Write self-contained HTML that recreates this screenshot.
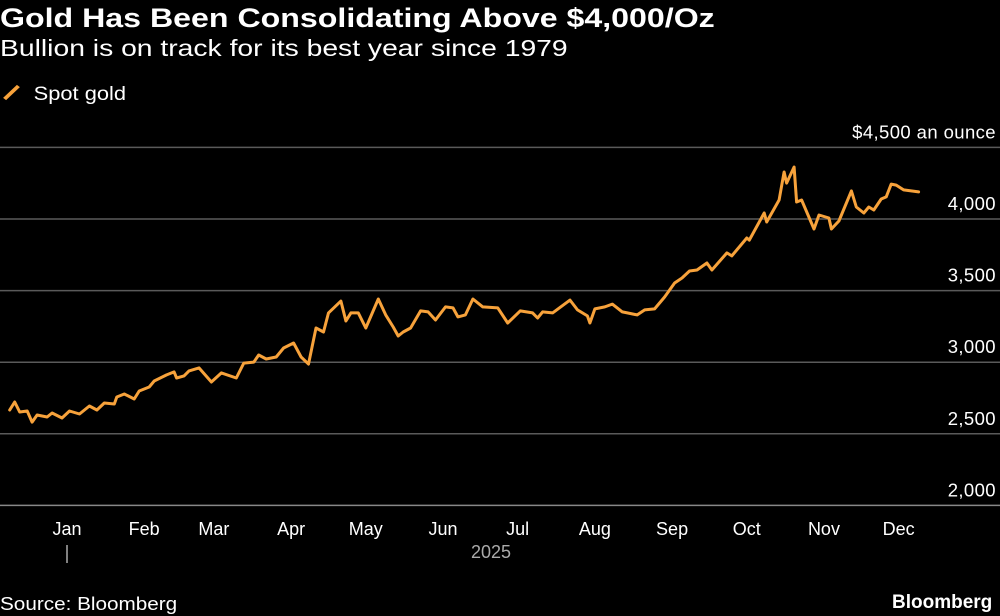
<!DOCTYPE html>
<html><head><meta charset="utf-8"><style>
html,body{margin:0;padding:0;background:#000;}
body{width:1000px;height:616px;position:relative;overflow:hidden;font-family:"Liberation Sans",sans-serif;color:#fff;}
.t{position:absolute;white-space:nowrap;transform-origin:left top;}
</style></head><body>
<div class="t" style="left:0;top:3px;font-size:27px;font-weight:bold;transform:scaleX(1.19);">Gold Has Been Consolidating Above $4,000/Oz</div>
<div class="t" style="left:0;top:35px;font-size:23px;transform:scaleX(1.23);">Bullion is on track for its best year since 1979</div>
<div class="t" style="left:0;top:83px;font-size:19px;transform:scaleX(1.15);"><svg width="24" height="20" style="vertical-align:-3px"><line x1="4" y1="16" x2="16" y2="3" stroke="#f7a23b" stroke-width="3.5"/></svg> Spot gold</div>
<svg id="chart" width="1000" height="616" style="position:absolute;left:0;top:0"></svg>
<div class="t" style="left:0;top:594px;font-size:18px;transform:scaleX(1.15);">Source: Bloomberg</div>
<div class="t" style="left:892px;top:592px;font-size:19px;font-weight:bold;">Bloomberg</div>
<script>
const days=[-23,-21,-19,-16,-14,-12,-8,-6,-2,1,5,9,12,15,19,20,23,27,29,33,35,40,43,44,47,49,53,58,62,68,71,75,77,80,84,87,91,94,97,100,103,105,110,112,114,117,120,125,128,131,133,135,138,142,145,148,152,155,157,160,163,167,173,177,182,187,189,191,195,202,205,209,210,212,216,219,223,225,229,232,236,240,244,247,250,253,257,259,265,267,273,274,280,281,286,288,289,292,293,295,300,302,306,307,310,313,315,317,320,322,324,327,329,331,333,336,339,342];
const prices=[2666,2722,2652,2659,2582,2631,2617,2645,2610,2659,2638,2694,2666,2715,2708,2757,2778,2743,2799,2827,2869,2911,2932,2890,2904,2939,2960,2862,2925,2890,2994,3001,3050,3022,3036,3099,3134,3036,2987,3239,3211,3344,3427,3288,3344,3344,3239,3441,3330,3246,3183,3211,3239,3358,3351,3295,3386,3379,3316,3330,3441,3386,3379,3274,3358,3344,3309,3351,3344,3434,3365,3323,3274,3372,3386,3406,3351,3344,3330,3365,3372,3455,3553,3588,3637,3644,3693,3644,3763,3742,3867,3853,4042,3979,4133,4328,4251,4363,4119,4133,3930,4028,4007,3930,3986,4112,4196,4084,4042,4084,4063,4140,4154,4244,4237,4203,4196,4189];
const yTicks=[2000,2500,3000,3500,4000,4500];
const yTickLabels=["2,000","2,500","3,000","3,500","4,000","$4,500 an ounce"];
const months=["Jan","Feb","Mar","Apr","May","Jun","Jul","Aug","Sep","Oct","Nov","Dec"];
const monthStarts=[0,31,59,90,120,151,181,212,243,273,304,334];
const NS="http://www.w3.org/2000/svg";
const svg=document.getElementById('chart');
function x(d){return 67+d*2.49;}
function y(p){return 219+(4000-p)*0.1432;}
function mk(tag,attrs){const e=document.createElementNS(NS,tag);for(const k in attrs)e.setAttribute(k,attrs[k]);svg.appendChild(e);return e;}
yTicks.forEach((v,i)=>{
  const l=mk('line',{x1:0,x2:1000,y1:y(v),y2:y(v),stroke:i===0?'#888':'#5a5a5a','stroke-width':1.5});
  
  
  const t=mk('text',{x:996,y:y(v)-9,'text-anchor':'end','font-size':18.5,fill:'#fff','font-family':'Liberation Sans, sans-serif','letter-spacing':'0.4'});
  t.textContent=yTickLabels[i];
  
  
});
months.forEach((m,i)=>{
  const t=mk('text',{x:x(monthStarts[i]),y:535,'text-anchor':'middle','font-size':18,fill:'#fff','font-family':'Liberation Sans, sans-serif'});
  t.textContent=m;
  
  
});
const tk=mk('line',{x1:x(0),x2:x(0),y1:545,y2:563,stroke:'#aaa','stroke-width':1.5});


const yr=mk('text',{x:491,y:558,'text-anchor':'middle','font-size':18,fill:'#aaa','font-family':'Liberation Sans, sans-serif'});
yr.textContent='2025';


const pts=days.map((d,i)=>x(d).toFixed(1)+','+y(prices[i]).toFixed(1)).join(' ');
const pl=mk('polyline',{points:pts,fill:'none',stroke:'#f7a23b','stroke-width':3,'stroke-linejoin':'round','stroke-linecap':'round'});


</script>
</body></html>
